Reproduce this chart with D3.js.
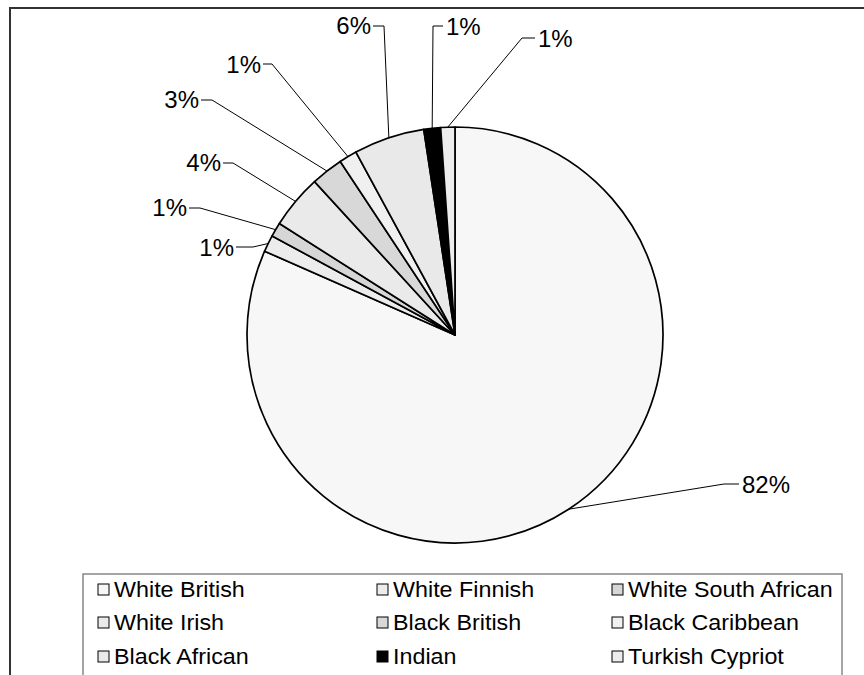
<!DOCTYPE html>
<html>
<head>
<meta charset="utf-8">
<script src="https://cdn.jsdelivr.net/npm/d3@7"></script>
<style>
  html, body { margin: 0; padding: 0; background: #fff; }
  svg { display: block; font-family: "Liberation Sans", Arial, sans-serif; }
</style>
</head>
<body>
<svg id="chart" width="864" height="675"></svg>
<script>
// Ethnic composition (% of respondents), clockwise from 12 o'clock
const categories = [
  "White British", "White Finnish", "White South African",
  "White Irish", "Black British", "Black Caribbean",
  "Black African", "Indian", "Turkish Cypriot"
];
const shares = [81.6, 1.3, 1.1, 4.2, 2.5, 1.4, 5.5, 1.3, 1.1];
const fills = [
  "#f7f7f7", "#ececec", "#d6d6d6",
  "#eaeaea", "#d8d8d8", "#f0f0f0",
  "#e9e9e9", "#000000", "#ededed"
];

// label placement: elbow point and text anchor point for each slice
const labelLayout = [
  { elbow: [724, 484], text: [742, 485], anchor: "start" },
  { elbow: [253, 247], text: [234, 248], anchor: "end" },
  { elbow: [200, 208], text: [187, 208], anchor: "end" },
  { elbow: [233, 163], text: [221, 163], anchor: "end" },
  { elbow: [212, 100], text: [199, 100], anchor: "end" },
  { elbow: [272, 64],  text: [261, 65],  anchor: "end" },
  { elbow: [384, 26],  text: [371, 26],  anchor: "end" },
  { elbow: [433, 26],  text: [446, 27],  anchor: "start" },
  { elbow: [522, 38],  text: [538, 39],  anchor: "start" }
];

const svg = d3.select("#chart");
const cx = 455, cy = 335, r = 208;

// outer chart frame (left and top edges visible)
svg.append("path")
  .attr("d", "M10,680 L10,8 L870,8")
  .attr("fill", "none")
  .attr("stroke", "#333")
  .attr("stroke-width", 2);

const data = categories.map((c, i) => ({ name: c, value: shares[i], fill: fills[i], layout: labelLayout[i] }));

const pie = d3.pie().sort(null).value(d => d.value);
const arcs = pie(data);
const arc = d3.arc().innerRadius(0).outerRadius(r);

const g = svg.append("g").attr("transform", `translate(${cx},${cy})`);

g.selectAll("path.slice")
  .data(arcs)
  .join("path")
  .attr("class", "slice")
  .attr("d", arc)
  .attr("fill", d => d.data.fill)
  .attr("stroke", "#000")
  .attr("stroke-width", 1.7)
  .attr("stroke-linejoin", "round");

// leader lines from slice edge to label
const edgePoint = d => {
  const a = (d.startAngle + d.endAngle) / 2;
  return [cx + r * Math.sin(a), cy - r * Math.cos(a)];
};

svg.selectAll("polyline.leader")
  .data(arcs)
  .join("polyline")
  .attr("class", "leader")
  .attr("points", d => {
    const p = edgePoint(d);
    const L = d.data.layout;
    const endX = L.text[0] + (L.anchor === "end" ? 2 : -3);
    return [p, L.elbow, [endX, L.elbow[1]]].map(q => q.join(",")).join(" ");
  })
  .attr("fill", "none")
  .attr("stroke", "#000")
  .attr("stroke-width", 1);

svg.selectAll("text.pct")
  .data(arcs)
  .join("text")
  .attr("class", "pct")
  .attr("x", d => d.data.layout.text[0])
  .attr("y", d => d.data.layout.text[1])
  .attr("dy", "0.35em")
  .attr("text-anchor", d => d.data.layout.anchor)
  .attr("font-size", 24)
  .attr("fill", "#000")
  .text(d => Math.round(d.data.value) + "%");

// legend
const legend = svg.append("g");
legend.append("rect")
  .attr("x", 83).attr("y", 574)
  .attr("width", 759).attr("height", 120)
  .attr("fill", "#fff")
  .attr("stroke", "#888")
  .attr("stroke-width", 1.5);

const colX = [98, 377, 612];
const rowY = [589, 622, 656];

const items = legend.selectAll("g.item")
  .data(data)
  .join("g")
  .attr("class", "item")
  .attr("transform", (d, i) => `translate(${colX[i % 3]},${rowY[Math.floor(i / 3)]})`);

items.append("rect")
  .attr("x", 0).attr("y", -5)
  .attr("width", 11).attr("height", 11)
  .attr("fill", d => d.fill)
  .attr("stroke", "#000")
  .attr("stroke-width", 1);

items.append("text")
  .attr("transform", "translate(16,0) scale(1.06,1)")
  .attr("dy", "0.38em")
  .attr("font-size", 22)
  .attr("fill", "#000")
  .text(d => d.name);
</script>
</body>
</html>
